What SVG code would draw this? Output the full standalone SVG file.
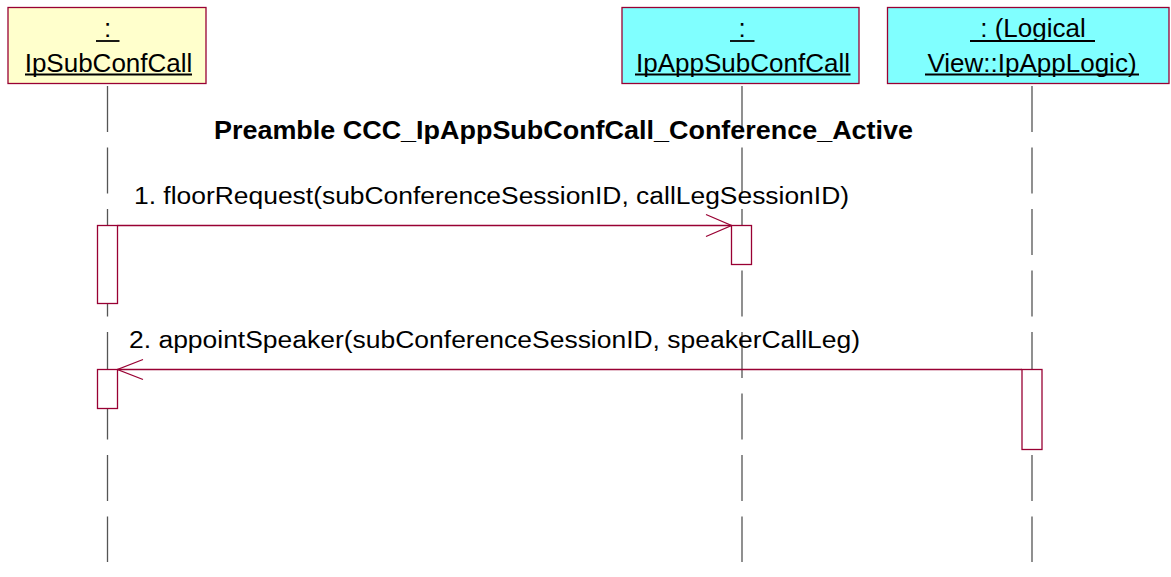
<svg xmlns="http://www.w3.org/2000/svg" width="1171" height="577" viewBox="0 0 1171 577">
<style>
.obj{stroke:#990033;stroke-width:1.3}
.yel{fill:#FFFFCC}
.cyan{fill:#80FFFF}
.t{font-family:"Liberation Sans",Arial,sans-serif;font-size:26px;fill:#000;text-anchor:middle}
.ul{stroke:#000;stroke-width:1.8}
.life{stroke:#555;stroke-width:1.3;stroke-dasharray:46 15.5;fill:none}
.act{fill:#fff;stroke:#990033;stroke-width:1.3}
.msg{stroke:#990033;stroke-width:1.3;fill:none}
.m{font-family:"Liberation Sans",Arial,sans-serif;font-size:23px;fill:#000}
.title{font-family:"Liberation Sans",Arial,sans-serif;font-size:26px;font-weight:bold;fill:#000}
</style>
<rect width="1171" height="577" fill="#fff"/>
<g id="lifelines">
<line class="life" x1="107.5" y1="86" x2="107.5" y2="562"/>
<line class="life" x1="742" y1="86" x2="742" y2="562"/>
<line class="life" x1="1032" y1="86" x2="1032" y2="562"/>
</g>
<g id="IpSubConfCall">
<rect class="obj yel" x="8" y="7.5" width="198" height="76"/>
<text class="t" x="107.5" y="37">:</text>
<line class="ul" x1="96" y1="41" x2="119.5" y2="41"/>
<text class="t" x="108.5" y="72">IpSubConfCall</text>
<line class="ul" x1="25" y1="74.5" x2="192" y2="74.5"/>
</g>
<g id="IpAppSubConfCall">
<rect class="obj cyan" x="622" y="7.5" width="237" height="76"/>
<text class="t" x="742" y="37">:</text>
<line class="ul" x1="730" y1="41" x2="754.5" y2="41"/>
<text class="t" x="743" y="72">IpAppSubConfCall</text>
<line class="ul" x1="635" y1="74.5" x2="850.5" y2="74.5"/>
</g>
<g id="IpAppLogic">
<rect class="obj cyan" x="887.5" y="7.5" width="281.5" height="76"/>
<text class="t" x="1033" y="37">: (Logical</text>
<line class="ul" x1="970" y1="41" x2="1095" y2="41"/>
<text class="t" x="1032" y="72">View::IpAppLogic)</text>
<line class="ul" x1="925" y1="74.5" x2="1139" y2="74.5"/>
</g>
<text class="title" x="214" y="139" textLength="699" lengthAdjust="spacingAndGlyphs">Preamble CCC_IpAppSubConfCall_Conference_Active</text>
<g id="activations">
<rect class="act" x="97.5" y="225.5" width="20" height="78"/>
<rect class="act" x="731.5" y="225.5" width="20" height="39"/>
<rect class="act" x="97.5" y="369.5" width="20" height="39"/>
<rect class="act" x="1022" y="369.5" width="20" height="80"/>
</g>
<g id="connectors">
<g id="msg1">
<line class="msg" x1="117.5" y1="225.5" x2="731.5" y2="225.5"/>
<polyline class="msg" points="706,214.5 731.5,225.5 706,236.5"/>
<text class="m" x="134" y="204" textLength="715" lengthAdjust="spacingAndGlyphs">1. floorRequest(subConferenceSessionID, callLegSessionID)</text>
</g>
<g id="msg2">
<line class="msg" x1="1022" y1="369.5" x2="117.5" y2="369.5"/>
<polyline class="msg" points="143,359.5 117.5,369.5 143,379.5"/>
<text class="m" x="129" y="348" textLength="731" lengthAdjust="spacingAndGlyphs">2. appointSpeaker(subConferenceSessionID, speakerCallLeg)</text>
</g>
</g>
</svg>
